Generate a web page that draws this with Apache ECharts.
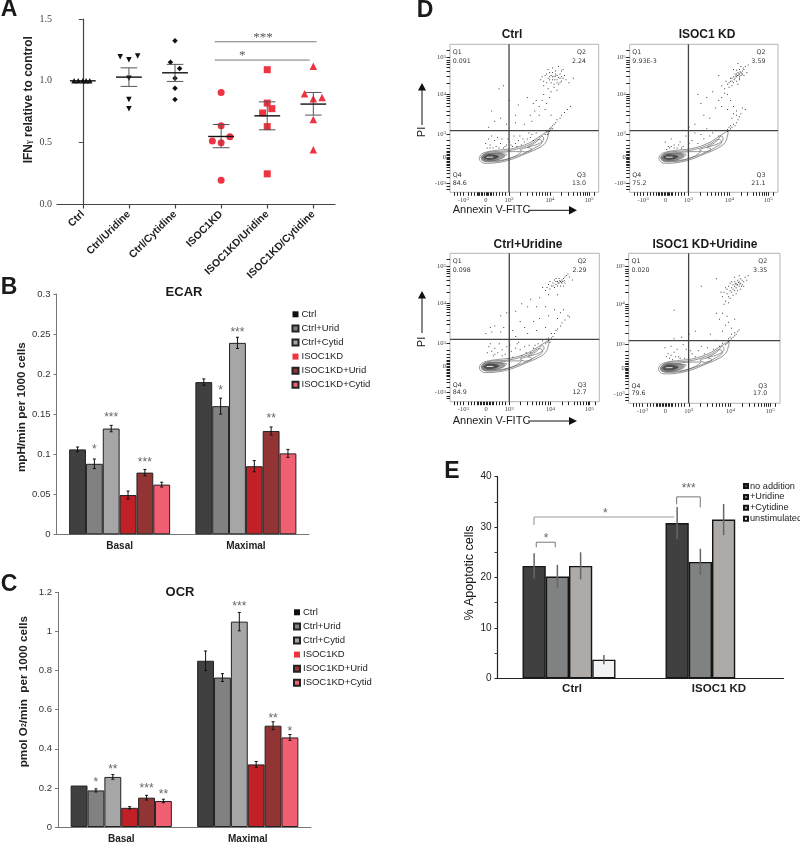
<!DOCTYPE html>
<html><head><meta charset="utf-8"><style>html,body{margin:0;padding:0;background:#fff}#c{width:800px;height:844px}</style>
<script src="https://cdn.jsdelivr.net/npm/echarts@6/dist/echarts.min.js"></script></head>
<body><div id="c"></div><script>
// ---------- Panel A
const catsA=['Ctrl','Ctrl/Uridine','Ctrl/Cytidine','ISOC1KD','ISOC1KD/Uridine','ISOC1KD/Cytidine'];
const ctrlPts=[[-0.19,1],[-0.1,1],[0,1],[0.07,1],[0.15,1]];
const ctrlUriPts=[[0.81,1.195],[1.19,1.2],[1,1.17],[1,1.02],[1,0.85],[1,0.775]];
const ctrlCytPts=[[1.9,1.15],[2,1.325],[2.1,1.1],[2,1.02],[2,0.94],[2,0.85]];
const kdPts=[[3,0.906],[3,0.637],[3.19,0.548],[2.81,0.513],[3,0.5],[3,0.197]];
const kdUriPts=[[4,1.09],[4,0.82],[4.1,0.775],[3.9,0.74],[4,0.63],[4,0.248]];
const kdCytPts=[[5,1.117],[4.81,0.895],[5,0.855],[5.19,0.866],[5,0.688],[5,0.442]];
const meansA=[1,1.03,1.065,0.55,0.717,0.812];
const semHiA=[1,1.105,1.133,0.647,0.83,0.906];
const semLoA=[1,0.955,0.995,0.459,0.604,0.723];
// ---------- Panels B, C
const barCats=['Basal','Maximal'];
const barNames=['Ctrl','Ctrl+Urid','Ctrl+Cytid','ISOC1KD','ISOC1KD+Urid','ISOC1KD+Cytid'];
const barColors=['#404040','#808281','#a6a6a6','#c12026','#933434','#f15f72'];
const ecarBasal=[0.106,0.088,0.132,0.049,0.077,0.062];
const ecarMax=[0.19,0.16,0.239,0.085,0.129,0.101];
const ecarBasalErr=[0.003,0.006,0.004,0.005,0.004,0.003];
const ecarMaxErr=[0.004,0.01,0.007,0.007,0.005,0.005];
const ecarStars=[[0,1,0.11,'*'],[0,2,0.149,'***'],[0,4,0.093,'***'],[1,1,0.183,'*'],[1,2,0.256,'***'],[1,4,0.1485,'**']];
const ocrBasal=[0.212,0.187,0.256,0.098,0.15,0.133];
const ocrMax=[0.85,0.764,1.05,0.32,0.518,0.458];
const ocrBasalErr=[0,0.008,0.012,0.006,0.012,0.009];
const ocrMaxErr=[0.05,0.02,0.047,0.015,0.02,0.015];
const ocrStars=[[0,1,0.24,'*'],[0,2,0.308,'**'],[0,4,0.21,'***'],[0,5,0.182,'**'],[1,2,1.14,'***'],[1,4,0.568,'**'],[1,5,0.503,'*']];
// ---------- Panel E
const apoCats=['Ctrl','ISOC1 KD'];
const apoNames=['no addition','+Uridine','+Cytidine','unstimulated'];
const apoColors=['#404040','#7f8281','#aeaaa8','#f2f3f5'];
const apoCtrl=[22.3,20.2,22.3,3.7];
const apoKD=[30.8,23.1,31.5,null];
const apoCtrlErr=[2.5,2.3,2.7,0.9];
const apoKDErr=[3.2,2.6,3.1,0];
// ---------- Panel D (values on the display-scaled 0-100 axes)
const flowTitles=['Ctrl','ISOC1 KD','Ctrl+Uridine','ISOC1 KD+Uridine'];
const flowQ=[['0.091','2.24','13.0','84.6'],['9.93E-3','3.59','21.1','75.2'],['0.098','2.29','12.7','84.9'],['0.020','3.35','17.0','79.6']];
const flowGates=[[39.7,41.7],[39.6,41.7],[39.7,42],[39.6,41.8]];
const flowTickLabelX={9:'-10^3',24.2:'0',39.7:'10^3',67.3:'10^4',93.5:'10^5'};
const flowTickLabelY={6.1:'-10^3',23.6:'0',39.4:'10^3',66.2:'10^4',91.2:'10^5'};
const flowTicksX=[3,5,7,9,12,14,16,18,19,20,21,22,23,24.2,25,26,27,28,29,31,33,35,37,39.7,47.3,52,55.3,58,60,62,64,65.7,67.3,75,79.5,83,85.5,87.5,89.5,91,92.3,93.5,97];
const flowTicksY=[2,4,6.1,10,13,15,17,18,19,20,21,22,23,23.6,25,26,27,28,30,32,35,39.4,47,52,55,58,60,62,63.5,65,66.2,74,78.5,82,84.5,86.5,88,89.5,91.2,96];
const contourRings=[
[[19.7,23.6],[21.3,25.9],[25.8,27.5],[33.6,28.6],[42.6,29.7],[52.7,33.1],[59.4,37.2],[64.6,40.5],[66.4,41.4],[66.1,38.7],[63.9,33.1],[58.3,29.3],[50.4,25.9],[41.5,22.3],[31.4,20],[23.5,19.6],[20.2,21.4],[19.7,23.6]],
[[21,23.6],[24,26.5],[30,27.5],[38,28],[46,29.5],[54,32.5],[60,35.8],[62,34],[57,30],[50,26.5],[42,23.5],[33,21],[25,20.6],[21.5,22],[21,23.6]],
[[22,23.6],[26,26.3],[33,26.8],[42,27.5],[48,27.5],[44,24.5],[36,22],[27,21.2],[22.5,22.3],[22,23.6]],
[[22.5,23.6],[26,25.8],[33,26],[38,25.5],[35,23],[28,21.6],[23,22.2],[22.5,23.6]],
[[52,30.5],[58,34],[62,38],[63,36],[60,33],[52,30.5]],
[[47,28.8],[52,30.2],[55,29],[50,27.3],[47,28.8]]
];
const contourShade=[[20.5,23.6],[23,26.2],[29,26.8],[35,26.4],[37,24.8],[33,22.2],[27,20.8],[22,21.2],[20.5,23.6]];
const contourCore=[[22,23.6],[25,25.6],[30,25.4],[33,24.2],[30,22.4],[25,22],[22,23.6]];
const flowCore=[[24.5,23.7],[29,23.8]];
const dots1=[[70,78],[72,76],[68,79],[74,80],[66,77],[71,82],[73,85],[69,84],[65,74],[75,75],[77,79],[63,72],[67,81],[78,76],[70,73],[64,79],[76,83],[72,79],[69,76],[68,74],[74,77],[66,83],[80,74],[71,80],[62,78],[70,71],[75,82],[73,73],[67,76],[83,77],[61,76],[72,69],[66,70],[68,68],[69,78],[71,78.5],[73,77.5],[70.5,76],[67,78],[75,78],[65,80],[72,74],[76,77],[63,75],[69,81],[74,74],[63,66],[67,64],[62,62],[65,60],[60,58],[64,56],[58,62],[56,60],[54,52],[57,55],[52,64],[46,59],[44,52],[40,62],[36,72],[33,70],[30,48],[28,55],[44,47],[50,46],[55,48],[60,52],[68,52],[38,46],[34,50],[26,44],[66,42],[67,43],[68,44],[69,45],[70,46],[71,47],[72,49],[74,50],[75,52],[77,54],[79,56],[81,58],[65,41],[66,40],[67,41],[68,43],[69,43],[64,39],[65.5,39],[66.5,41.5],[67.5,42],[26,36],[28,38],[24,33],[30,35],[32,37],[27,32],[34,33],[36,30],[38,32],[40,34],[42,31],[44,33],[46,35],[48,32],[50,34],[52,36],[54,37],[56,35],[29,30],[25,30],[31,31],[35,36],[47,38],[53,40],[58,40],[43,38],[33,30],[37,31],[41,32],[45,31],[27,30],[39,36],[49,36],[55,39]];
const dots2=[[73,79],[74,80],[72,78],[75,81],[71,77],[76,82],[74,78],[72,80],[73,81],[75,79],[70,78],[77,83],[78,85],[76,80],[74,83],[71,80],[69,77],[68,75],[70,74],[72,75],[66,73],[67,71],[64,70],[65,75],[74,76],[77,79],[79,81],[80,86],[75,85],[73,87],[70,83],[62,72],[60,79],[69,72],[73,73],[73.5,80],[72.5,79],[74.5,81.5],[75.5,80],[71.5,78.5],[70.5,76],[68,77],[76.5,84],[72,82.5],[74,77],[67,74],[69,75],[64,67],[62,64],[66,66],[68,62],[60,62],[58,57],[62,58],[66,56],[70,58],[72,55],[76,57],[56,68],[52,64],[48,60],[46,66],[50,52],[54,50],[44,46],[40,44],[36,42],[67,42],[68,43],[69,44],[70,46],[71,45],[72,47],[66,41],[67,44],[68,45],[73,49],[74,51],[72,52],[69,50],[70,53],[66,42.5],[75,53],[78,56],[28,31],[30,30],[32,30],[26,31],[34,34],[38,38],[42,35],[46,33],[44,40],[50,36],[54,38],[28,36],[24,34],[33,32],[36,31],[48,39],[56,40],[60,38],[52,43],[30,32],[27,30],[35,30],[40,33],[25,29]];
const dots3=[[74,81],[75,82],[73,80],[76,83],[72,81],[71,79],[77,84],[70,82],[75,80],[73,83],[78,85],[79,86],[74,78],[69,80],[68,78],[72,78],[67,81],[66,79],[77,80],[80,84],[82,82],[70,77],[65,77],[76,78],[64,75],[62,77],[71,83],[73.5,81.5],[74.5,80.5],[75.5,81],[72.5,80],[76.5,81.5],[71,81],[69,78],[67,76],[72,72],[66,72],[60,70],[54,69],[52,64],[58,64],[64,64],[70,62],[74,60],[48,66],[44,61],[38,60],[34,58],[30,51],[27,50],[36,50],[42,48],[47,54],[50,50],[56,54],[60,56],[66,58],[72,56],[76,62],[44,44],[52,46],[58,48],[64,50],[28,47],[24,46],[34,47],[66,41],[67,42],[68,43],[69,44],[65,40],[64,39],[66,43],[67,40],[70,46],[71,48],[72,49],[74,51],[75,53],[77,55],[79,58],[80,57],[65,42],[68,46],[26,37],[28,34],[30,36],[27,39],[32,33],[35,35],[38,37],[41,34],[44,36],[47,35],[50,37],[53,38],[56,36],[59,39],[30,32],[25,33],[37,32],[42,30],[48,31],[54,33],[33,39],[46,40],[29,31],[35,31],[40,38],[45,39],[51,33],[57,38],[62,41]];
const dots4=[[72,79],[71,80],[73,81],[70,78],[74,80],[69,79],[75,82],[71,77],[73,78],[68,77],[76,81],[72,82],[74,83],[70,81],[67,80],[66,78],[77,84],[78,82],[75,79],[64,77],[68,74],[70,75],[72,75],[65,73],[63,74],[66,71],[67,70],[74,76],[69,72],[62,71],[76,78],[79,85],[73,85],[70,84],[61,74],[64,68],[66,67],[63,66],[71.5,79],[72.5,80.5],[73.5,79.5],[70.5,79.5],[69,76],[67,75],[74.5,78],[68,81],[65,76],[71,73],[58,83],[48,78],[30,62],[62,60],[65,58],[60,56],[66,54],[70,56],[64,52],[58,60],[68,50],[62,48],[44,48],[40,46],[54,46],[66,41],[67,42],[68,43],[66,43],[65,40],[69,44],[70,45],[71,46],[72,48],[73,49],[67,44],[70,47],[68,46],[64,39],[28,32],[30,34],[26,33],[24,37],[28,38],[31,31],[34,30],[38,36],[42,33],[46,35],[48,38],[52,37],[56,36],[60,38],[36,39],[32,36],[44,31],[50,33],[62,40],[58,42],[30,43],[35,44],[27,30],[33,31],[37,30],[41,35],[25,31],[29,29]];

// ---------- helpers
const SANS='"Liberation Sans",Arial,sans-serif', SERIF='"Liberation Serif",serif';
function segs(xi,yi,list,color,width,z){return{type:'custom',xAxisIndex:xi,yAxisIndex:yi,silent:true,z:z||5,clip:false,
  data:list.map(s=>[s[0],s[1]]),
  renderItem:(p,api)=>{const s=list[p.dataIndex],a=api.coord([s[0],s[1]]),b=api.coord([s[2],s[3]]);
    return{type:'line',shape:{x1:a[0],y1:a[1],x2:b[0],y2:b[1]},style:{stroke:color,lineWidth:width}};}};}
function texts(xi,yi,list,st,dy){return{type:'custom',xAxisIndex:xi,yAxisIndex:yi,silent:true,z:6,clip:false,
  data:list.map(s=>[s[0],s[1]]),
  renderItem:(p,api)=>{const s=list[p.dataIndex],a=api.coord([s[0],s[1]]);
    return{type:'text',style:Object.assign({x:a[0],y:a[1]+(dy||0),text:s[2],align:s[3]||'center',verticalAlign:'middle'},st)};}};}
function blob(g,ring,fill){return{type:'custom',xAxisIndex:g,yAxisIndex:g,silent:true,z:2,clip:false,data:[ring[0]],
  renderItem:(p,api)=>({type:'polygon',shape:{points:ring.map(r=>api.coord(r)),smooth:0.4},style:{fill:fill}})};}
const starStyle={font:'12px '+SANS,fill:'#666'};
function barX(c,i,n,gap){const w=(1-gap)/n;return c+gap/2+w*(i+.5);}

const grids=[
 {left:57,top:19,width:278,height:185.5},
 {left:56.5,top:294,width:252.5,height:240.3},
 {left:58,top:592.3,width:253,height:235.4},
 {left:497.5,top:476.7,width:286,height:201.6},
 {left:450,top:44.3,width:148.7,height:148},
 {left:629.7,top:44.3,width:148.3,height:148},
 {left:450,top:253.3,width:149.3,height:148.4},
 {left:628.7,top:253.3,width:151.3,height:150}
];
grids.forEach((g,i)=>{g.containLabel=false;if(i>=4){g.show=true;g.borderColor='#b5b5b5';g.borderWidth=1;g.backgroundColor='#fff';}});

const supRich={b:{fontSize:6.5,fontFamily:SERIF,color:'#444'},s:{fontSize:5,fontFamily:SERIF,color:'#444',verticalAlign:'top'}};
const supFmt=map=>v=>{const t=map[v];if(t==null)return'';const m=t.split('^');return m.length>1?`{b|${m[0]}}{s|${m[1]}}`:`{b|${t}}`;};

const xAxes=[
 {gridIndex:0,type:'value',min:-0.56,max:5.47,splitLine:{show:false},
  axisLine:{onZero:false,lineStyle:{color:'#444',width:1.2}},axisTick:{customValues:[0,1,2,3,4,5],length:4,lineStyle:{color:'#444',width:1.2}},
  axisLabel:{customValues:[0,1,2,3,4,5],formatter:v=>catsA[v],rotate:45,margin:8,fontSize:10.5,fontWeight:'bold',color:'#222',fontFamily:SANS}},
 {gridIndex:1,type:'category',data:barCats,axisLine:{lineStyle:{color:'#777'}},axisTick:{length:3,lineStyle:{color:'#777'}},axisLabel:{fontSize:10,fontWeight:'bold',color:'#222',margin:7,fontFamily:SANS}},
 {gridIndex:2,type:'category',data:barCats,axisLine:{lineStyle:{color:'#777'}},axisTick:{length:3,lineStyle:{color:'#777'}},axisLabel:{fontSize:10,fontWeight:'bold',color:'#222',margin:7,fontFamily:SANS}},
 {gridIndex:3,type:'category',data:apoCats,axisLine:{lineStyle:{color:'#222',width:1.2}},axisTick:{show:false},
  axisLabel:{margin:5,formatter:v=>v==='Ctrl'?`{a|${v}}`:`{k|${v}}`,rich:{a:{fontSize:11.5,fontWeight:'bold',color:'#222',fontFamily:SANS,padding:[0,0,0,6]},k:{fontSize:11.5,fontWeight:'bold',color:'#222',fontFamily:SANS,padding:[0,0,0,14]}}}}
];
const yAxes=[
 {gridIndex:0,type:'value',min:0,max:1.5,interval:0.5,name:'IFN{g|γ} relative to control',nameLocation:'middle',nameGap:22,
  nameTextStyle:{fontSize:12,fontWeight:'bold',color:'#222',fontFamily:SANS,padding:[0,0,0,24],rich:{g:{fontSize:8,fontWeight:'bold',color:'#222',fontFamily:SERIF}}},
  splitLine:{show:false},axisLine:{show:true,lineStyle:{color:'#444',width:1.2}},axisTick:{show:true,length:4,lineStyle:{color:'#444'}},
  axisLabel:{formatter:v=>v.toFixed(1),fontSize:10,fontFamily:SERIF,color:'#444',margin:5}},
 {gridIndex:1,type:'value',min:0,max:0.3,interval:0.05,name:'mpH/min per 1000 cells',nameLocation:'middle',nameGap:27,
  nameTextStyle:{fontSize:11.7,fontWeight:'bold',color:'#222',fontFamily:SANS,padding:[0,0,0,14]},
  splitLine:{show:false},axisLine:{show:true,lineStyle:{color:'#777'}},axisTick:{show:true,length:3,lineStyle:{color:'#777'}},
  axisLabel:{fontSize:9.5,color:'#333',fontFamily:SANS,margin:6}},
 {gridIndex:2,type:'value',min:0,max:1.2,interval:0.2,name:'pmol O{s|2}/min  per 1000 cells',nameLocation:'middle',nameGap:28,
  nameTextStyle:{fontSize:11.7,fontWeight:'bold',color:'#222',fontFamily:SANS,padding:[0,0,0,36],rich:{s:{fontSize:7,fontWeight:'bold',color:'#222',fontFamily:SANS}}},
  splitLine:{show:false},axisLine:{show:true,lineStyle:{color:'#777'}},axisTick:{show:true,length:3,lineStyle:{color:'#777'}},
  axisLabel:{fontSize:9.5,color:'#333',fontFamily:SANS,margin:6}},
 {gridIndex:3,type:'value',min:0,max:40,interval:10,name:'% Apoptotic cells',nameLocation:'middle',nameGap:20,
  nameTextStyle:{fontSize:12.5,color:'#111',fontFamily:SANS,padding:[0,0,0,9]},
  splitLine:{show:false},axisLine:{show:true,lineStyle:{color:'#222',width:1.2}},axisTick:{show:true,length:3,lineStyle:{color:'#222'}},
  minorTick:{show:true,splitNumber:2,length:3,lineStyle:{color:'#444'}},minorSplitLine:{show:false},
  axisLabel:{fontSize:10,color:'#222',fontFamily:SANS,margin:6}}
];
const series=[];
[4,5,6,7].forEach(g=>{
 xAxes.push({gridIndex:g,type:'value',min:0,max:100,splitLine:{show:false},offset:1,axisLine:{show:false},
   axisTick:{show:true,customValues:flowTicksX,length:3.5,lineStyle:{color:'#222',width:1}},
   axisLabel:{customValues:Object.keys(flowTickLabelX).map(Number),formatter:supFmt(flowTickLabelX),rich:supRich,margin:3}});
 yAxes.push({gridIndex:g,type:'value',min:0,max:100,splitLine:{show:false},offset:1,axisLine:{show:false},
   axisTick:{show:true,customValues:flowTicksY,length:3.5,lineStyle:{color:'#222',width:1}},
   axisLabel:{customValues:Object.keys(flowTickLabelY).map(Number),formatter:supFmt(flowTickLabelY),rich:supRich,margin:3}});
});
[1,2,3].forEach(g=>xAxes.push({gridIndex:g,type:'value',min:0,max:2,show:false,splitLine:{show:false}}));

// ---- A series
const ptSets=[[ctrlPts,'triangle',5.5,'#111',0],[ctrlUriPts,'triangle',5.5,'#111',180],[ctrlCytPts,'diamond',5.5,'#111',0],
 [kdPts,'circle',7,'#ee3342',0],[kdUriPts,'rect',7,'#ee3342',0],[kdCytPts,'triangle',7.5,'#ee3342',0]];
ptSets.forEach(([d,sym,size,col,rot],i)=>series.push({type:'scatter',name:catsA[i],xAxisIndex:0,yAxisIndex:0,data:d,symbol:sym,symbolSize:size,symbolRotate:rot,itemStyle:{color:col,opacity:1},z:3}));
const meanSegs=[],semSegs=[];
meansA.forEach((m,i)=>{meanSegs.push([i-.28,m,i+.28,m]);
 if(i>0){semSegs.push([i,semLoA[i],i,semHiA[i]],[i-.18,semHiA[i],i+.18,semHiA[i]],[i-.18,semLoA[i],i+.18,semLoA[i]]);}});
series.push(segs(0,0,semSegs,'#555',1,4),segs(0,0,meanSegs,'#111',1.4,5));
series.push(segs(0,0,[[2.86,1.316,5.07,1.316],[2.86,1.168,4.92,1.168]],'#777',1,5));
series.push(texts(0,0,[[3.91,1.365,'***'],[3.46,1.217,'*']],{font:'13px '+SERIF,fill:'#555'},2));

// ---- bar panel builder
function barPanel(g,ox,names,colors,valsByCat,errByCat,gap,bw,errColor,errW,cap,edge){
 names.forEach((n,i)=>series.push({type:'bar',name:n,xAxisIndex:g,yAxisIndex:g,barGap:0,barCategoryGap:(gap*100)+'%',
   data:valsByCat.map(v=>v[i]),itemStyle:{color:colors[i],borderColor:edge,borderWidth:bw},z:2}));
 const er=[];
 valsByCat.forEach((v,c)=>v.forEach((y,i)=>{const e=errByCat[c][i];if(y==null||!e)return;
   const x=barX(c,i,names.length,gap);er.push([x,y-e,x,y+e]);
   if(cap){er.push([x-cap,y-e,x+cap,y-e],[x-cap,y+e,x+cap,y+e]);}}));
 series.push(segs(ox,g,er,errColor,errW,5));
}
barPanel(1,8,barNames,barColors,[ecarBasal,ecarMax],[ecarBasalErr,ecarMaxErr],0.2,1,'#111',1,0.012,'#222');
barPanel(2,9,barNames,barColors,[ocrBasal,ocrMax],[ocrBasalErr,ocrMaxErr],0.2,1,'#111',1,0.012,'#222');
barPanel(3,10,apoNames,apoColors,[apoCtrl,apoKD],[apoCtrlErr,apoKDErr],0.35,1.4,'#666',1.5,0,'#151515');
series.push(texts(8,1,ecarStars.map(s=>[barX(s[0],s[1],6,.2),s[2],s[3]]),starStyle,3));
series.push(texts(9,2,ocrStars.map(s=>[barX(s[0],s[1],6,.2),s[2],s[3]]),starStyle,3));
// E brackets (overlay axis: one category = 1 unit)
series.push(segs(10,3,[[0.271,26,0.271,27],[0.271,27,0.404,27],[0.404,27,0.404,26]],'#777',1,5));
series.push(segs(10,3,[[0.255,30.4,0.255,32],[0.255,32,1.236,32]],'#999',1.1,5));
series.push(segs(10,3,[[1.253,34.5,1.253,36],[1.253,36,1.418,36],[1.418,36,1.418,33.9]],'#777',1,5));
series.push(texts(10,3,[[0.339,28.2,'*'],[0.754,33.3,'*'],[1.337,38.3,'***']],starStyle,3));

// ---- flow panels
[dots1,dots2,dots3,dots4].forEach((d,k)=>{const g=k+4;
 series.push(blob(g,contourShade,'#9a9a9a'),blob(g,contourCore,'#4d4d4d'));
 contourRings.forEach((r,ri)=>series.push({type:'line',xAxisIndex:g,yAxisIndex:g,data:r,smooth:0.4,symbol:'none',silent:true,lineStyle:{color:'#666',width:0.7},z:3}));
 series.push({type:'line',xAxisIndex:g,yAxisIndex:g,data:flowCore,symbol:'none',silent:true,lineStyle:{color:'#e4e4e4',width:1},z:4});
 series.push({type:'scatter',xAxisIndex:g,yAxisIndex:g,data:d,symbol:'rect',symbolSize:1,silent:true,itemStyle:{color:'#222',opacity:.85},z:3});
 const [v,h]=flowGates[k];
 series.push(segs(g,g,[[v,0,v,100],[0,h,100,h]],'#444',1.3,5));
 const q=flowQ[k],st={font:'6.3px "DejaVu Sans",sans-serif',fill:'#333'};
 series.push(texts(g,g,[[1.8,94.4,'Q1','left'],[1.8,88.8,q[0],'left'],[91.5,94.4,'Q2','right'],[91.5,88.8,q[1],'right'],
   [91.5,11.3,'Q3','right'],[91.5,6.3,q[2],'right'],[1.8,11.3,'Q4','left'],[1.8,6.3,q[3],'left']],st));
});

// ---- static text, letters and arrows
function txt(t,x,y,font,extra){return Object.assign({type:'text',x:x,y:y,silent:true,z:20,style:{text:t,font:font,fill:'#1a1a1a',align:'center',verticalAlign:'middle'}},extra||{});}
const big='bold 23px '+SANS, ttl='bold 13px '+SANS, flowT='bold 12px '+SANS;
function arrow(x1,y1,x2,y2,pts){return[{type:'line',silent:true,z:20,shape:{x1,y1,x2,y2},style:{stroke:'#111',lineWidth:1}},
 {type:'polygon',silent:true,z:20,shape:{points:pts},style:{fill:'#111'}}];}
const graphics=[
 txt('A',9,10,big),txt('B',9,288,big),txt('C',9,585,big),txt('D',425,11,big),txt('E',452,472,big),
 txt('ECAR',184,292,ttl),txt('OCR',180,592,ttl),
 txt(flowTitles[0],512,35,flowT),txt(flowTitles[1],707,35,flowT),txt(flowTitles[2],528,244.5,flowT),txt(flowTitles[3],705,244.5,flowT),
 txt('Annexin V-FITC',491.5,210,'11px '+SANS),txt('Annexin V-FITC',491.5,421,'11px '+SANS),
 txt('PI',422,132,'11px '+SANS,{rotation:Math.PI/2}),txt('PI',422,342,'11px '+SANS,{rotation:Math.PI/2}),
 ...arrow(528,210.3,570,210.3,[[569,206],[577,210.3],[569,214.5]]),
 ...arrow(528,421,570,421,[[569,417],[577,421],[569,425]]),
 ...arrow(422,125,422,90,[[418,90.5],[422,83],[426,90.5]]),
 ...arrow(422,333,422,298,[[418,298.5],[422,291],[426,298.5]])
];
const legendBase={orient:'vertical',icon:'rect',selectedMode:false,itemWidth:6,itemHeight:6,padding:0,
 textStyle:{fontSize:9.5,color:'#222',fontFamily:SANS,lineHeight:10,padding:[0,0,0,-2]},itemGap:4.1};
const option={animation:false,backgroundColor:'#fff',textStyle:{fontFamily:SANS},
 grid:grids,xAxis:xAxes,yAxis:yAxes,series:series,graphic:graphics,
 legend:[
  Object.assign({},legendBase,{left:291.5,top:309.3,data:barNames}),
  Object.assign({},legendBase,{left:293,top:607.3,data:barNames}),
  Object.assign({},legendBase,{left:743,top:481,itemWidth:4,itemHeight:4,itemGap:0.9,data:apoNames,textStyle:{fontSize:9.2,color:'#222',fontFamily:SANS,lineHeight:10,padding:[0,0,0,-3]}})
 ]};
echarts.init(document.getElementById('c'),null,{renderer:'canvas'}).setOption(option);
</script></body></html>
